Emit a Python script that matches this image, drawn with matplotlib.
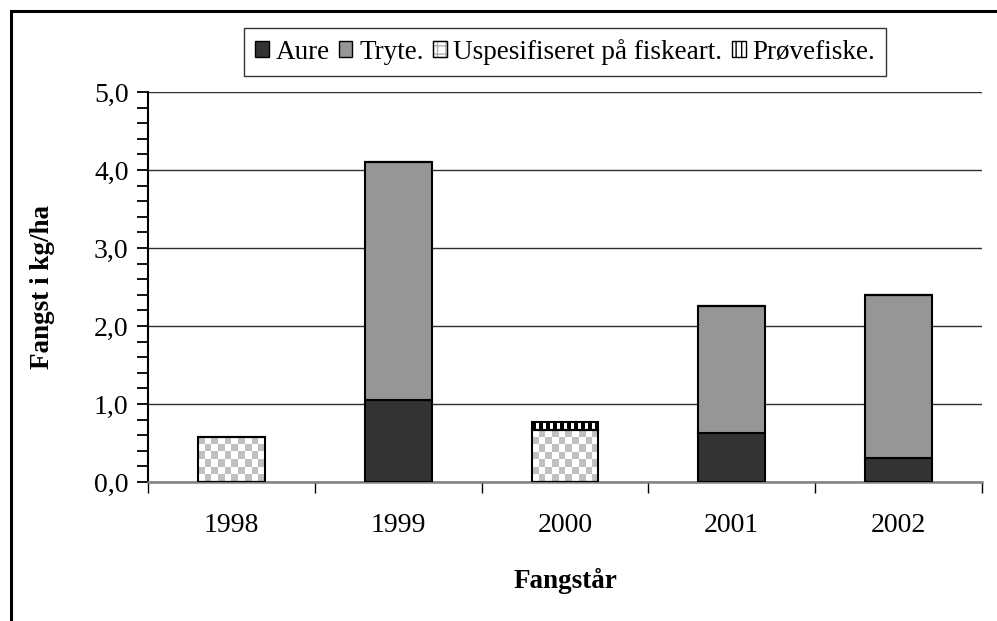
import numpy as np
import matplotlib
matplotlib.use('Agg')
import matplotlib.pyplot as plt
from matplotlib.colors import ListedColormap
from matplotlib.patches import Patch, Rectangle
from matplotlib.ticker import FuncFormatter, MultipleLocator, FixedLocator

plt.rcParams['font.family'] = ['Liberation Serif', 'DejaVu Serif']

# Data (kg/ha per year)
years = ['1998', '1999', '2000', '2001', '2002']
aure = [0.0, 1.05, 0.0, 0.63, 0.31]
tryte = [0.0, 3.05, 0.0, 1.63, 2.09]
uspesifisert = [0.58, 0.0, 0.67, 0.0, 0.0]
provefiske = [0.0, 0.0, 0.10, 0.0, 0.0]

fig = plt.figure(figsize=(9.97, 6.21), dpi=100)
ax = fig.add_axes([0.1484, 0.2238, 0.985 - 0.1484, 0.8518 - 0.2238])

x = np.arange(len(years))
w = 0.4

ax.set_xlim(-0.5, len(years) - 0.5)
ax.set_ylim(0, 5)

bars_aure = ax.bar(x, aure, w, color='#333333', edgecolor='black', linewidth=1.5, zorder=3)
bottom = np.array(aure)
bars_tryte = ax.bar(x, tryte, w, bottom=bottom, color='#969696', edgecolor='black', linewidth=1.5, zorder=3)
bottom = bottom + np.array(tryte)
bars_usp = ax.bar(x, uspesifisert, w, bottom=bottom, facecolor='none', edgecolor='black', linewidth=1.5, zorder=3)
bottom = bottom + np.array(uspesifisert)
bars_pf = ax.bar(x, provefiske, w, bottom=bottom, facecolor='none', edgecolor='black', linewidth=1.5, zorder=3)

# pixel size of one data unit
px_x = ax.transData.transform((1, 0))[0] - ax.transData.transform((0, 0))[0]
px_y = ax.transData.transform((0, 1))[1] - ax.transData.transform((0, 0))[1]

# checker fill for unspecified catch
checker_cmap = ListedColormap(['white', '#c0c0c0'])
for p in bars_usp:
    h = p.get_height()
    if h <= 0:
        continue
    nx = max(1, int(round(p.get_width() * px_x / 7)))
    ny = max(1, int(round(h * px_y / 7)))
    grid = (np.add.outer(np.arange(ny), np.arange(nx)) % 2).astype(float)
    ax.imshow(grid, cmap=checker_cmap, extent=(p.get_x(), p.get_x() + p.get_width(), p.get_y(), p.get_y() + h),
              origin='lower', aspect='auto', interpolation='nearest', zorder=2.5, vmin=0, vmax=1)

# vertical stripes for test fishing
stripe_cmap = ListedColormap(['black', 'white'])
for p in bars_pf:
    h = p.get_height()
    if h <= 0:
        continue
    nx = max(1, int(round(p.get_width() * px_x / 3.5)))
    grid = (np.arange(nx) % 2).reshape(1, -1).astype(float)
    ax.imshow(grid, cmap=stripe_cmap, extent=(p.get_x(), p.get_x() + p.get_width(), p.get_y(), p.get_y() + h),
              origin='lower', aspect='auto', interpolation='nearest', zorder=2.5, vmin=0, vmax=1)

ax.set_xlim(-0.5, len(years) - 0.5)
ax.set_ylim(0, 5)

# y axis
ax.yaxis.set_major_locator(MultipleLocator(1))
ax.yaxis.set_minor_locator(MultipleLocator(0.2))
ax.yaxis.set_major_formatter(FuncFormatter(lambda v, pos: f'{v:.1f}'.replace('.', ',')))
ax.tick_params(axis='y', which='both', direction='out', length=8, width=1.3, labelsize=20, pad=6, color='black')
ax.grid(axis='y', which='major', color='#303030', linewidth=1.0, zorder=1)
ax.set_axisbelow(True)

# x axis: ticks at category borders, labels at centres
ax.xaxis.set_major_locator(FixedLocator(np.arange(len(years) + 1) - 0.5))
ax.xaxis.set_minor_locator(FixedLocator(x))
ax.set_xticklabels([''] * (len(years) + 1))
ax.set_xticklabels(years, minor=True)
ax.tick_params(axis='x', which='major', direction='out', length=8, width=1.0, color='black')
ax.tick_params(axis='x', which='minor', length=0, labelsize=20, pad=22)

for s in ['top', 'right']:
    ax.spines[s].set_visible(False)
ax.spines['left'].set_linewidth(1.5)
ax.spines['bottom'].set_color('#808080')
ax.spines['bottom'].set_linewidth(1.8)

ax.set_ylabel('Fangst i kg/ha', fontsize=19.5, fontweight='bold', labelpad=28)
ax.set_xlabel('Fangstår', fontsize=19.5, fontweight='bold', labelpad=22)

# legend
handles = [
    Patch(facecolor='#333333', edgecolor='black'),
    Patch(facecolor='#969696', edgecolor='black'),
    (Patch(facecolor='white', edgecolor='#b0b0b0', hatch='++'), Patch(facecolor='none', edgecolor='black')),
    Patch(facecolor='white', edgecolor='black', hatch='|||'),
]
labels = ['Aure', 'Tryte.', 'Uspesifiseret på fiskeart.', 'Prøvefiske.']
leg = fig.legend(handles, labels, loc='upper center', bbox_to_anchor=(565 / 997, 1 - 28 / 621), ncol=4,
                 fontsize=19.5, frameon=True, fancybox=False, edgecolor='black', handlelength=0.5,
                 handleheight=0.5, handletextpad=0.25, columnspacing=0.35, borderpad=0.4, borderaxespad=0)
leg.get_frame().set_linewidth(1.0)

# outer frame of the chart
fig.patches.append(Rectangle((11 / 997, -0.1), 1.2, 1 - 11 / 621 + 0.1, transform=fig.transFigure,
                             facecolor='none', edgecolor='black', linewidth=2.2))

fig.savefig('out.png', dpi=100)
